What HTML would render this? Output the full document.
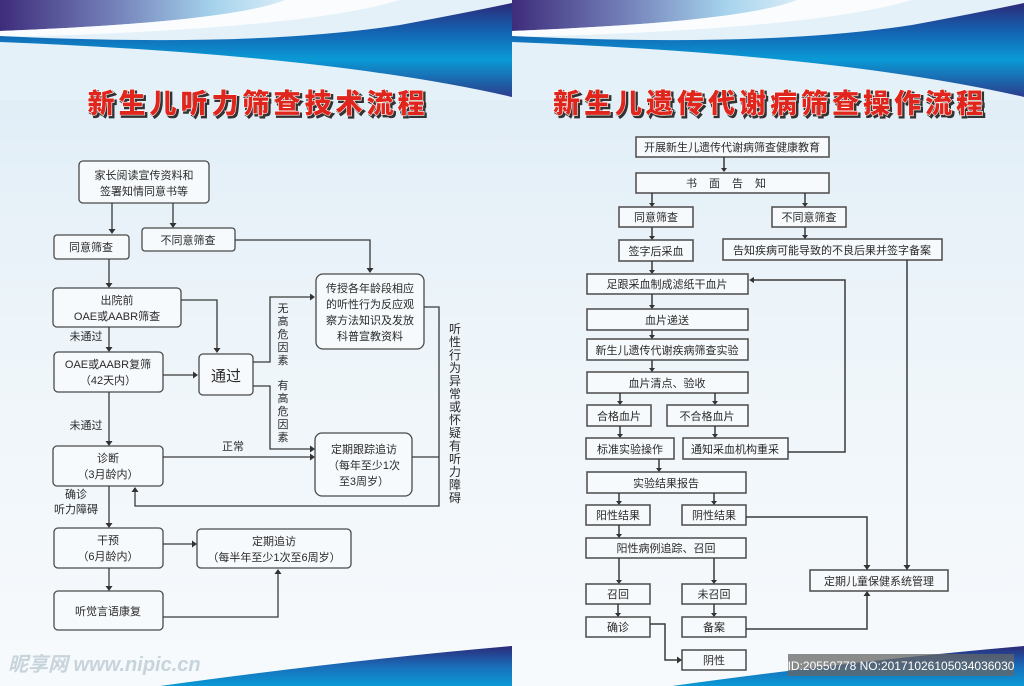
<!DOCTYPE html>
<html><head><meta charset="utf-8"><style>
html,body{margin:0;padding:0;width:1024px;height:686px;overflow:hidden;background:#eef5fa}
svg{display:block}
text{font-family:"Liberation Sans","Noto Sans CJK SC",sans-serif;fill:#2a2a2a}
.t{font-size:11px;text-anchor:middle}
.ttl{font-family:"Liberation Sans","Noto Sans CJK SC",sans-serif;font-size:27px;font-weight:900;fill:#e0261c;stroke:#fff;stroke-width:1.2px;paint-order:stroke;text-anchor:middle;letter-spacing:4px}
.sh{fill:#333;stroke:#333;stroke-width:2px}
.b{fill:#f7fafc;stroke:#4a4a4a;stroke-width:1.3}
.r{fill:#f7fafc;stroke:#555;stroke-width:1.6}
.l{fill:none;stroke:#3a3a3a;stroke-width:1.3}
</style></head><body>
<svg width="1024" height="686" viewBox="0 0 1024 686" xmlns="http://www.w3.org/2000/svg">
<defs>
<linearGradient id="bg" x1="0" y1="0" x2="0" y2="1"><stop offset="0" stop-color="#dcebf5"/><stop offset="0.5" stop-color="#eef5fa"/><stop offset="1" stop-color="#f7fafc"/></linearGradient>
<linearGradient id="pur" x1="0" y1="0" x2="1" y2="0"><stop offset="0" stop-color="#3e2c7c"/><stop offset="0.45" stop-color="#7a8cc0"/><stop offset="0.75" stop-color="#a6d3ec"/><stop offset="1" stop-color="#d8ecf7"/></linearGradient>
<linearGradient id="blu" x1="0" y1="0" x2="0" y2="1"><stop offset="0" stop-color="#2c2a78"/><stop offset="0.3" stop-color="#1462b0"/><stop offset="0.6" stop-color="#0a9ad6"/><stop offset="1" stop-color="#2b3d8c"/></linearGradient>
<linearGradient id="bot" x1="0" y1="0" x2="0" y2="1"><stop offset="0" stop-color="#2c2a78"/><stop offset="0.5" stop-color="#1a6cb8"/><stop offset="1" stop-color="#0a9ad6"/></linearGradient>
<g id="hdr">
<rect x="0" y="0" width="512" height="686" fill="url(#bg)"/>
<path d="M0,0 H512 V100 H0 Z" fill="#e4f1f9"/>
<path d="M0,0 H285 Q230,22 0,31 Z" fill="url(#pur)"/>
<path d="M0,31 Q230,22 285,0 H400 Q300,30 0,37 Z" fill="#ffffff" opacity="0.8"/>
<path d="M0,36 Q250,48 400,25 Q470,12 512,3 V97 Q330,55 0,42 Z" fill="url(#blu)"/>
<path d="M160,686 Q350,660 512,646 V686 Z" fill="url(#bot)"/>
</g>
</defs>
<use href="#hdr"/>
<use href="#hdr" x="512"/>

<!-- titles -->
<text class="ttl sh" x="260" y="115">新生儿听力筛查技术流程</text>
<text class="ttl" x="258" y="113">新生儿听力筛查技术流程</text>
<text class="ttl sh" x="772" y="115">新生儿遗传代谢病筛查操作流程</text>
<text class="ttl" x="770" y="113">新生儿遗传代谢病筛查操作流程</text>

<!-- LEFT -->
<g>
<rect class="b" x="79" y="161" width="130" height="42" rx="4"/>
<text class="t" x="144" y="179">家长阅读宣传资料和</text>
<text class="t" x="144" y="195">签署知情同意书等</text>
<rect class="b" x="54" y="235" width="75" height="24" rx="3"/>
<text class="t" x="91" y="251">同意筛查</text>
<rect class="b" x="142" y="228" width="93" height="23" rx="3"/>
<text class="t" x="188" y="244">不同意筛查</text>
<rect class="b" x="316" y="274" width="108" height="75" rx="7"/>
<text class="t" x="370" y="292">传授各年龄段相应</text>
<text class="t" x="370" y="308">的听性行为反应观</text>
<text class="t" x="370" y="324">察方法知识及发放</text>
<text class="t" x="370" y="340">科普宣教资料</text>
<rect class="b" x="53" y="288" width="128" height="39" rx="4"/>
<text class="t" x="117" y="304">出院前</text>
<text class="t" x="117" y="320">OAE或AABR筛查</text>
<rect class="b" x="54" y="352" width="109" height="40" rx="4"/>
<text class="t" x="108" y="368">OAE或AABR复筛</text>
<text class="t" x="108" y="384">（42天内）</text>
<rect class="b" x="199" y="354" width="54" height="41" rx="4"/>
<text x="226" y="381" style="font-size:15px;text-anchor:middle">通过</text>
<rect class="b" x="53" y="446" width="110" height="40" rx="4"/>
<text class="t" x="108" y="462">诊断</text>
<text class="t" x="108" y="478">（3月龄内）</text>
<rect class="b" x="315" y="433" width="97" height="63" rx="7"/>
<text class="t" x="364" y="453">定期跟踪追访</text>
<text class="t" x="364" y="469">（每年至少1次</text>
<text class="t" x="364" y="485">至3周岁）</text>
<rect class="b" x="54" y="528" width="109" height="40" rx="4"/>
<text class="t" x="108" y="544">干预</text>
<text class="t" x="108" y="560">（6月龄内）</text>
<rect class="b" x="197" y="529" width="154" height="39" rx="4"/>
<text class="t" x="274" y="545">定期追访</text>
<text class="t" x="274" y="561">（每半年至少1次至6周岁）</text>
<rect class="b" x="54" y="591" width="109" height="39" rx="4"/>
<text class="t" x="108" y="615">听觉言语康复</text>

<text class="t" x="86" y="340">未通过</text>
<text class="t" x="86" y="429">未通过</text>
<text class="t" x="233" y="450">正常</text>
<text class="t" x="76" y="498">确诊</text>
<text class="t" x="76" y="513">听力障碍</text>
<g class="t" style="font-size:11px">
<text x="283" y="312">无</text><text x="283" y="325">高</text><text x="283" y="338">危</text><text x="283" y="351">因</text><text x="283" y="364">素</text>
<text x="283" y="389">有</text><text x="283" y="402">高</text><text x="283" y="415">危</text><text x="283" y="428">因</text><text x="283" y="441">素</text>
</g>
<g class="t" style="font-size:12px">
<text x="455" y="333">听</text><text x="455" y="346">性</text><text x="455" y="359">行</text><text x="455" y="372">为</text><text x="455" y="385">异</text><text x="455" y="398">常</text><text x="455" y="411">或</text><text x="455" y="424">怀</text><text x="455" y="437">疑</text><text x="455" y="450">有</text><text x="455" y="463">听</text><text x="455" y="476">力</text><text x="455" y="489">障</text><text x="455" y="502">碍</text>
</g>
<path class="l" d="M112,203V232 M173,203V226 M235,240H370V271 M109,259V286 M181,300H217V351 M109,327V350 M163,375H196 M253,362H270V297H313 M253,386H270V449H313 M109,392V444 M163,457H313 M424,307H439V506H135V489 M412,457H439 M109,486V526 M163,544H195 M109,568V589 M163,617H278V571"/>
<g fill="#333">
<path d="M108.5,232l3.5,5l3.5,-5z" transform="translate(0,-3)"/>
<path d="M169.5,223l3.5,5l3.5,-5z"/>
<path d="M366.5,268l3.5,5l3.5,-5z"/>
<path d="M105.5,283l3.5,5l3.5,-5z"/>
<path d="M213.5,348l3.5,5l3.5,-5z"/>
<path d="M105.5,347l3.5,5l3.5,-5z"/>
<path d="M193,371.5l5,3.5l-5,3.5z"/>
<path d="M310,293.5l5,3.5l-5,3.5z"/>
<path d="M310,445.5l5,3.5l-5,3.5z"/>
<path d="M310,453.5l5,3.5l-5,3.5z"/>
<path d="M105.5,441l3.5,5l3.5,-5z"/>
<path d="M131.5,492l3.5,-5l3.5,5z"/>
<path d="M105.5,523l3.5,5l3.5,-5z"/>
<path d="M192,540.5l5,3.5l-5,3.5z"/>
<path d="M105.5,586l3.5,5l3.5,-5z"/>
<path d="M274.5,574l3.5,-5l3.5,5z"/>
</g>
</g>

<!-- RIGHT -->
<g>
<rect class="r" x="636" y="137" width="193" height="20"/>
<text class="t" x="732" y="151">开展新生儿遗传代谢病筛查健康教育</text>
<rect class="r" x="636" y="173" width="193" height="20"/>
<text class="t" x="732" y="187" style="letter-spacing:12px">书面告知</text>
<rect class="r" x="619" y="207" width="74" height="20"/>
<text class="t" x="656" y="221">同意筛查</text>
<rect class="r" x="772" y="207" width="74" height="20"/>
<text class="t" x="809" y="221">不同意筛查</text>
<rect class="r" x="619" y="240" width="74" height="21"/>
<text class="t" x="656" y="255">签字后采血</text>
<rect class="r" x="723" y="239" width="219" height="21"/>
<text class="t" x="832" y="254">告知疾病可能导致的不良后果并签字备案</text>
<rect class="r" x="587" y="274" width="161" height="20"/>
<text class="t" x="667" y="288">足跟采血制成滤纸干血片</text>
<rect class="r" x="587" y="309" width="161" height="21"/>
<text class="t" x="667" y="324">血片递送</text>
<rect class="r" x="587" y="339" width="161" height="21"/>
<text class="t" x="667" y="354">新生儿遗传代谢疾病筛查实验</text>
<rect class="r" x="587" y="372" width="161" height="21"/>
<text class="t" x="667" y="387">血片清点、验收</text>
<rect class="r" x="587" y="405" width="64" height="21"/>
<text class="t" x="619" y="420">合格血片</text>
<rect class="r" x="667" y="405" width="81" height="21"/>
<text class="t" x="707" y="420">不合格血片</text>
<rect class="r" x="586" y="438" width="88" height="21"/>
<text class="t" x="630" y="453">标准实验操作</text>
<rect class="r" x="683" y="438" width="105" height="21"/>
<text class="t" x="735" y="453">通知采血机构重采</text>
<rect class="r" x="587" y="472" width="159" height="21"/>
<text class="t" x="666" y="487">实验结果报告</text>
<rect class="r" x="586" y="505" width="64" height="20"/>
<text class="t" x="618" y="519">阳性结果</text>
<rect class="r" x="682" y="505" width="64" height="20"/>
<text class="t" x="714" y="519">阴性结果</text>
<rect class="r" x="586" y="538" width="160" height="20"/>
<text class="t" x="666" y="552">阳性病例追踪、召回</text>
<rect class="r" x="810" y="570" width="138" height="21"/>
<text class="t" x="879" y="585">定期儿童保健系统管理</text>
<rect class="r" x="586" y="584" width="64" height="20"/>
<text class="t" x="618" y="598">召回</text>
<rect class="r" x="682" y="584" width="64" height="20"/>
<text class="t" x="714" y="598">未召回</text>
<rect class="r" x="586" y="617" width="64" height="20"/>
<text class="t" x="618" y="631">确诊</text>
<rect class="r" x="682" y="617" width="64" height="20"/>
<text class="t" x="714" y="631">备案</text>
<rect class="r" x="682" y="650" width="64" height="20"/>
<text class="t" x="714" y="664">阴性</text>
<path class="l" style="stroke-width:1.5" d="M724,157V171 M652,193V205 M805,193V205 M652,227V238 M805,227V237 M652,261V272 M652,294V307 M652,330V337 M652,360V370 M620,393V403 M715,393V403 M620,426V436 M715,426V436 M788,452H845V280H752 M907,260V567 M659,459V470 M619,493V503 M714,493V503 M746,517H867V567 M619,525V536 M619,558V582 M714,558V582 M618,604V615 M714,604V615 M746,629H867V594 M650,624H665V660H679"/>
<g fill="#333">
<path d="M721,168l3,4l3,-4z"/><path d="M649,203l3,4l3,-4z"/><path d="M802,203l3,4l3,-4z"/>
<path d="M649,236l3,4l3,-4z"/><path d="M802,235l3,4l3,-4z"/><path d="M649,270l3,4l3,-4z"/>
<path d="M649,305l3,4l3,-4z"/><path d="M649,335l3,4l3,-4z"/><path d="M649,368l3,4l3,-4z"/>
<path d="M617,401l3,4l3,-4z"/><path d="M712,401l3,4l3,-4z"/><path d="M617,434l3,4l3,-4z"/><path d="M712,434l3,4l3,-4z"/>
<path d="M754,277l-5,3l5,3z"/><path d="M903.5,565l3.5,5l3.5,-5z"/>
<path d="M656,468l3,4l3,-4z"/><path d="M616,501l3,4l3,-4z"/><path d="M711,501l3,4l3,-4z"/>
<path d="M863.5,565l3.5,5l3.5,-5z"/><path d="M616,534l3,4l3,-4z"/><path d="M616,580l3,4l3,-4z"/><path d="M711,580l3,4l3,-4z"/>
<path d="M615,613l3,4l3,-4z"/><path d="M711,613l3,4l3,-4z"/><path d="M863.5,596l3.5,-5l3.5,5z"/><path d="M677,656.5l5,3.5l-5,3.5z"/>
</g>
</g>

<!-- watermarks -->
<text x="8" y="671" style="font-size:20px;font-style:italic;fill:#c8d4dc;font-weight:bold">昵享网 www.nipic.cn</text>
<rect x="788" y="654" width="226" height="22" fill="#666" opacity="0.75"/>
<text x="901" y="670" style="font-size:12px;fill:#fff;text-anchor:middle">ID:20550778 NO:20171026105034036030</text>
</svg>
</body></html>
